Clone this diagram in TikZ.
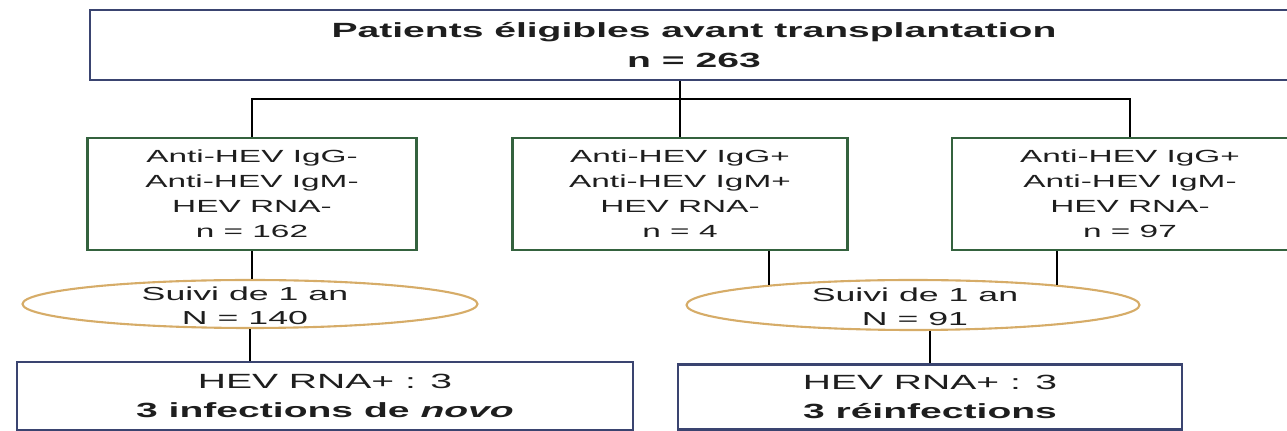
\documentclass[tikz,border=0pt]{standalone}
\usepackage{fontspec}
\setmainfont{Liberation Sans}[FakeStretch=1.9]
\usetikzlibrary{shapes.geometric}
\definecolor{framebl}{RGB}{58,68,112}
\definecolor{framegr}{RGB}{52,98,62}
\definecolor{framesu}{RGB}{214,172,104}
\definecolor{inkgr}{RGB}{30,30,30}

\begin{document}
\begin{tikzpicture}[x=0.02cm,y=-0.02cm,
  boxtop/.style={draw=framebl,line width=1.5pt,minimum width=24.16cm,minimum height=1.4cm,align=center,text=inkgr,font=\fontsize{11.7}{17}\selectfont\bfseries},
  grp/.style={draw=framegr,line width=1.4pt,minimum height=2.24cm,align=center,text=inkgr,font=\fontsize{10}{14.2}\selectfont},
  suivi/.style={draw=framesu,ellipse,line width=1.2pt,minimum height=0.96cm,inner sep=0pt},
  suivitxt/.style={align=center,text=inkgr,font=\fontsize{10.7}{13.7}\selectfont},
  res/.style={draw=framebl,line width=1.4pt,align=center,text=inkgr,font=\fontsize{11.7}{16.5}\selectfont},
  link/.style={black,line width=1.3pt}]
\useasboundingbox (0,0) rectangle (1287,431);
\clip (0,0) rectangle (1287,431);
% patients
\node[boxtop] (top) at (694,45) {Patients éligibles avant transplantation\\n = 263};
% serologie
\node[grp,minimum width=6.58cm] (lft) at (252,194) {Anti-HEV IgG-\\Anti-HEV IgM-\\HEV RNA-\\n = 162};
\node[grp,minimum width=6.7cm] (mid) at (680,194) {Anti-HEV IgG+\\Anti-HEV IgM+\\HEV RNA-\\n = 4};
\node[grp,minimum width=7.12cm] (rgt) at (1130,194) {Anti-HEV IgG+\\Anti-HEV IgM-\\HEV RNA-\\n = 97};
\coordinate (bar) at (680,99);
\draw[link] (top.south -| mid.north) -- (mid.north);
\draw[link] (lft.north) |- (bar) -| (rgt.north);
% suivi
\node[suivi,minimum width=9.1cm] (fuL) at (250,304) {};
\node[suivitxt] (fuLtxt) at (245,306) {Suivi de 1 an\\N = 140};
\node[suivi,minimum width=9.06cm,minimum height=1cm] (fuR) at (913,305) {};
\node[suivitxt] (fuRtxt) at (915,307) {Suivi de 1 an\\N = 91};
\draw[link] (lft.south) -- (lft.south |- fuL.north);
\draw[link] (mid.south -| fuR.172) -- (fuR.172);
\draw[link] (rgt.south -| fuR.8) -- (fuR.8);
% resultats
\node[res,minimum width=12.32cm,minimum height=1.36cm] (botL) at (325,396) {HEV RNA+ : 3\\\textbf{3 infections de \textit{novo}}};
\node[res,minimum width=10.08cm,minimum height=1.3cm] (botR) at (930,397) {HEV RNA+ : 3\\\textbf{3 réinfections}};
\draw[link] (fuL.south) -- (fuL.south |- botL.north);
\draw[link] (fuR.south -| botR.north) -- (botR.north);
\end{tikzpicture}
\end{document}
